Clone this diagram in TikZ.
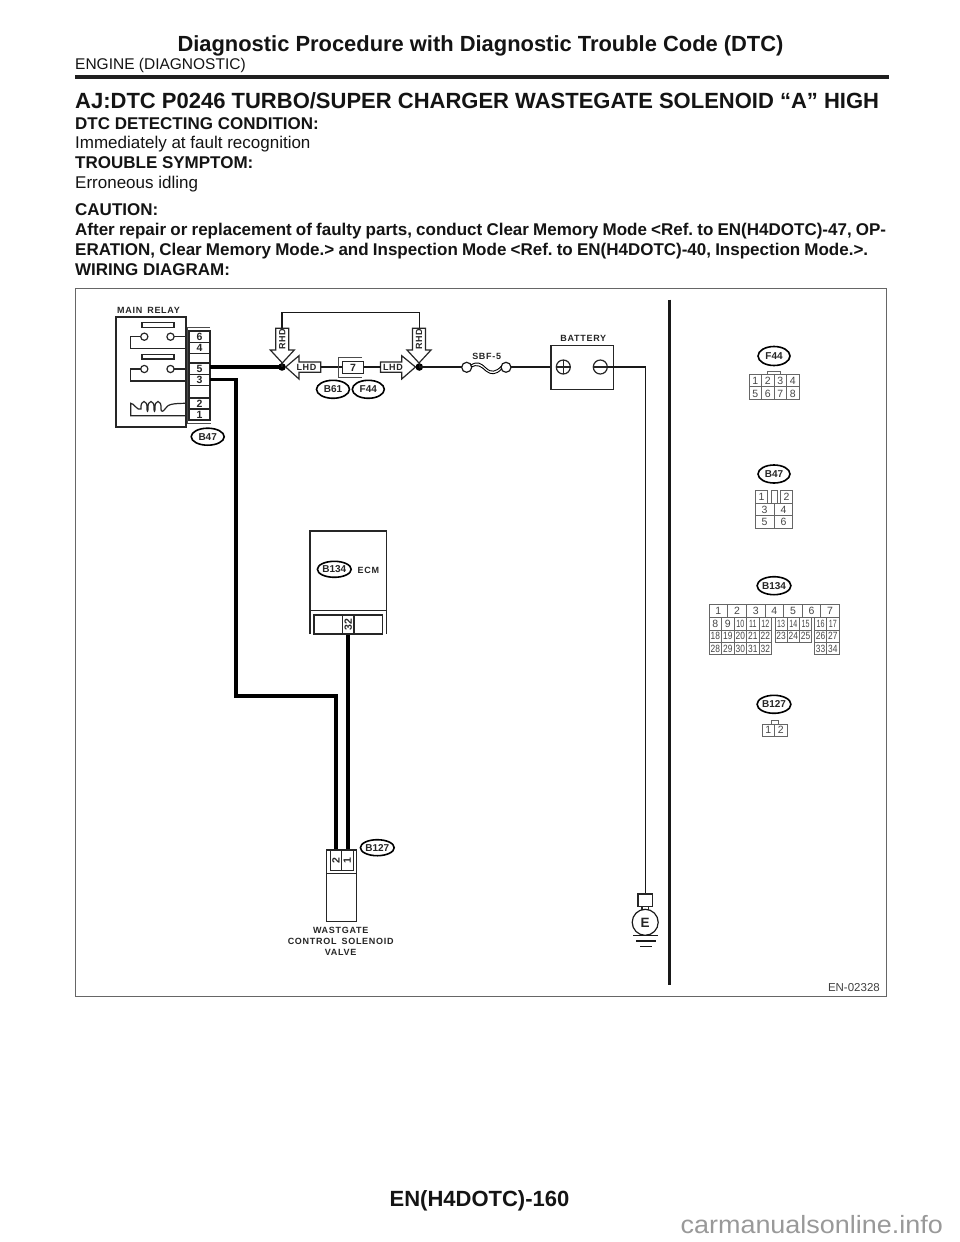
\documentclass[tikz,border=0pt]{standalone}
\usepackage{fontspec}
\setmainfont{Liberation Sans}
\newfontfamily\labfont[LetterSpace=8]{Liberation Sans}
\usetikzlibrary{shapes.geometric}
\newcommand{\narrownum}[1]{\scalebox{.8}[1]{#1}}
\newcommand{\tightnum}[1]{\scalebox{.68}[1]{#1}}
\tikzset{
 x=1pt,y=-1pt,
 tb/.style={font=\fontsize{17}{19}\selectfont\bfseries\frenchspacing,anchor=base west,inner sep=0,text=black!92},
 tn/.style={font=\fontsize{17}{19}\selectfont,anchor=base west,inner sep=0,text=black!92},
 lab/.style={font=\labfont\fontsize{9}{11}\selectfont\bfseries,inner sep=0,text=black!85},
 pin/.style={font=\fontsize{10.5}{11}\selectfont\bfseries,inner sep=0,text=black!85},
 conn/.style={draw=black,line width=1.6pt,ellipse,minimum width=32pt,minimum height=18pt,inner sep=0,font=\fontsize{10}{11}\selectfont\bfseries,text=black!85},
 wire/.style={line width=1.2pt,draw=black!90},
 fat/.style={line width=3.8pt,draw=black},
 box/.style={line width=1.2pt,draw=black!85},
 cell/.style={draw=black!60,line width=.8pt},
 num/.style={font=\fontsize{10.5}{11}\selectfont,inner sep=0,text=black!72},
}
\begin{document}
\begin{tikzpicture}
\useasboundingbox (0,0) rectangle (960,1242);
\fill[white] (0,0) rectangle (960,1242);
% header
\node[font=\fontsize{21.9}{24}\selectfont\bfseries,inner sep=0,anchor=base,text=black!92] (title) at (480.5,51) {Diagnostic Procedure with Diagnostic Trouble Code (DTC)};
\node[tn,font=\fontsize{15.5}{18}\selectfont] (sub) at (75,69.3) {ENGINE (DIAGNOSTIC)};
\draw[line width=3.5pt,black!88] (75,77) -- (889,77);
\node[tb,font=\fontsize{22}{24}\selectfont\bfseries] (h) at (75,108) {AJ:DTC P0246 TURBO/SUPER CHARGER WASTEGATE SOLENOID “A” HIGH};
\node[tb] (t1) at (75,129) {DTC DETECTING CONDITION:};
\node[tn] (t2) at (75,148.5) {Immediately at fault recognition};
\node[tb] (t3) at (75,168.5) {TROUBLE SYMPTOM:};
\node[tn] (t4) at (75,188.5) {Erroneous idling};
\node[tb] (t5) at (75,215.5) {CAUTION:};
\node[tb] (t6) at (75,235.5) {\spaceskip=4pt plus 3pt minus 3pt\makebox[811pt][s]{After repair or replacement of faulty parts, conduct Clear Memory Mode <Ref. to EN(H4DOTC)-47, OP-}};
\node[tb] (t7) at (75,255.5) {\spaceskip=4pt plus 3pt minus 3pt\makebox[793pt][s]{ERATION, Clear Memory Mode.> and Inspection Mode <Ref. to EN(H4DOTC)-40, Inspection Mode.>.}};
\node[tb] (t8) at (75,275.5) {WIRING DIAGRAM:};
% frame
\draw[draw=black!60,line width=1pt] (75,288.5) rectangle (886,996.5);
\node[font=\fontsize{11.5}{13}\selectfont,inner sep=0,anchor=base east,text=black!75] (en) at (880,991.7) {EN-02328};
\draw[line width=2.5pt,black!90] (669.3,299.5) -- (669.3,985);
% main relay
\node[lab] (mr) at (148.5,310) {MAIN\hspace{5pt}RELAY};
\draw[box] (116,317) rectangle (186,427);
\draw[box] (142,322.5) rectangle (174,327.3);
\draw[box] (142,354.3) rectangle (174,359);
\draw[box] (144.3,336.7) circle (3.6);
\draw[box] (170.5,336.7) circle (3.6);
\draw[box] (144.3,369) circle (3.6);
\draw[box] (170.5,369) circle (3.6);
\draw[box] (140.7,336.7) -- (130.7,336.7) -- (130.7,348.3) -- (189,348.3);
\draw[box] (174.1,336.7) -- (189,336.7);
\draw[box] (140.7,369) -- (130.7,369) -- (130.7,381) -- (186,381);
\draw[box] (174.1,369) -- (189,369);
\draw[box] (189,415.7) -- (130.7,415.7) -- (130.7,403.3)
 .. controls (134,403) and (137,411) .. (141,409)
 .. controls (140,399) and (148,399) .. (147,409) .. controls (147,412) and (148,412) .. (148,409)
 .. controls (147,399) and (155,399) .. (154,409) .. controls (154,412) and (155,412) .. (155,409)
 .. controls (154,399) and (162,399) .. (161,409) .. controls (161,412) and (163,412) .. (165,409)
 .. controls (168,404) and (172,403.3) .. (189,403.3);
% pin strip
\draw[black!70,line width=.8pt] (210,327.7) -- (187,327.7) -- (187,423.3) -- (211,423.3);
\draw[box] (189,331) rectangle (210,420);
\foreach \yy in {342.5,353.5,363,374.5,385.5,398,409} \draw[box] (189,\yy) -- (210,\yy);
\node[pin] (p6) at (199.5,337) {6};
\node[pin] (p4) at (199.5,348) {4};
\node[pin] (p5) at (199.5,368.7) {5};
\node[pin] (p3) at (199.5,380) {3};
\node[pin] (p2) at (199.5,403.7) {2};
\node[pin] (p1) at (199.5,414.7) {1};
\node[conn,minimum width=33pt,minimum height=17pt] (b47) at (207.7,436.7) {B47};
% fat wires
\coordinate (jl) at (282,367);
\coordinate (jr) at (419.3,367);
\fill[black] (jl) circle (3.8);
\fill[black] (jr) circle (3.8);
\draw[fat] (210,367) -- (jl);
\draw[fat] (210,379.5) -- (236,379.5) -- (236,696) -- (335.8,696) -- (335.8,850);
\draw[fat] (347.7,634) -- (347.7,850);
% RHD arrows
\draw[wire] (jl) -- (282,312.5) -- (419.3,312.5) -- (jr);
\foreach \xa/\na in {282.3/ra,419/rb}{
 \draw[box,fill=white] (\xa-6.5,328.3) -- (\xa+6.5,328.3) -- (\xa+6.5,350) -- (\xa+12,350) -- (\xa,363) -- (\xa-12,350) -- (\xa-6.5,350) -- cycle;
 \node[lab,rotate=90] (\na) at (\xa,339.5) {RHD};
}
% LHD arrows
\draw[box,fill=white] (285.7,367) -- (299,355.7) -- (299,362) -- (320.7,362) -- (320.7,372.3) -- (299,372.3) -- (299,379) -- cycle;
\node[lab] (ll) at (306.5,367.3) {LHD};
\draw[box,fill=white] (415.5,367) -- (401.7,355.7) -- (401.7,362) -- (380.5,362) -- (380.5,372.3) -- (401.7,372.3) -- (401.7,379) -- cycle;
\node[lab] (lr) at (393,367.3) {LHD};
\draw[wire] (320.7,367) -- (342.3,367) (363.3,367) -- (380.5,367);
\draw[black!70,line width=.8pt] (362,357.3) -- (338.7,357.3) -- (338.7,377.3) -- (362,377.3);
\draw[box,fill=white] (342.3,361.7) rectangle (363.3,373.3);
\node[pin] (p7) at (353,367.5) {7};
\node[conn,minimum width=33pt,minimum height=18pt] (b61) at (333,389.3) {B61};
\node[conn,minimum width=32pt,minimum height=18pt] (f44a) at (368.3,389.3) {F44};
% fuse & battery
\draw[wire] (jr) -- (461.7,367);
\draw[wire] (466.7,367.3) circle (5);
\draw[wire] (506,367.3) circle (5);
\draw[line width=.9pt] (471,365) .. controls (477,361) and (481,363) .. (486,368) .. controls (491,373) and (496,372) .. (501.5,366);
\draw[line width=.9pt] (471,367) .. controls (477,364) and (481,366) .. (486,371) .. controls (491,375) and (496,375) .. (501.5,369);
\node[lab] (sbf) at (486.7,356) {SBF-5};
\draw[wire] (511,367) -- (551,367);
\draw[box] (551,345.7) rectangle (613.7,389.7);
\node[lab] (bat) at (583.3,338.3) {BATTERY};
\draw[box] (563.3,367) circle (7);
\draw[box] (556.3,367) -- (570.3,367) (563.3,360) -- (563.3,374);
\draw[box] (600.3,367) circle (7);
\draw[box] (593.3,367) -- (607.3,367);
\draw[wire] (607.3,367) -- (645.5,367) -- (645.5,894);
% ground
\draw[box] (638,894) rectangle (652.7,906.7);
\draw[box] (642,906.7) -- (642,909.5) (648.7,906.7) -- (648.7,909.5);
\draw[wire] (645.2,922.3) circle (13);
\node[font=\fontsize{13.5}{14}\selectfont\bfseries,inner sep=0,text=black!85] (e) at (645.2,922.5) {E};
\draw[wire] (633,935.7) -- (658,935.7);
\draw[wire] (636,941) -- (655.5,941);
\draw[wire] (640,946.7) -- (651.7,946.7);
% ECM
\draw[box] (310,634) -- (310,531) -- (386.7,531) -- (386.7,634);
\draw[box] (310,610.7) -- (386.7,610.7);
\draw[box] (314,615) rectangle (382.7,634);
\draw[box] (342.3,615) -- (342.3,634) (354,615) -- (354,634);
\node[pin,rotate=90] (p32) at (348.2,624.5) {32};
\node[conn,minimum width=31pt,minimum height=16pt] (b134a) at (334.3,569.3) {B134};
\node[lab] (ecm) at (368.3,570.7) {ECM};
% solenoid
\draw[box] (326.7,850) rectangle (356.7,921.7);
\draw[box] (326.7,873.3) -- (356.7,873.3);
\draw[box] (330.3,850) rectangle (353.3,870.7);
\draw[box] (341.7,850) -- (341.7,870.7);
\node[pin,rotate=90] (s2) at (336,860.7) {2};
\node[pin,rotate=90] (s1) at (347.2,860.7) {1};
\node[conn,minimum width=32pt,minimum height=16pt] (b127a) at (377.3,847.7) {B127};
\node[lab,align=center,font=\labfont\fontsize{9}{11}\selectfont\bfseries] (wg) at (340.7,941.7) {WASTGATE\\CONTROL\hspace{5pt}SOLENOID\\VALVE};
% connector F44
\node[conn,minimum height=19pt] (f44) at (774,356) {F44};
\foreach \i in {1,2,3} \draw[cell] (749+12.5*\i,374) -- (749+12.5*\i,399.3);
\draw[cell] (749,374) rectangle (799,399.3); \draw[cell] (749,386.7) -- (799,386.7);
\draw[cell] (767.7,374) -- (767.7,371) -- (780.7,371) -- (780.7,374);
\foreach \n [count=\c from 0] in {1,2,3,4} \node[num] (fa\n) at (755.2+12.5*\c,381) {\n};
\foreach \n [count=\c from 0] in {5,6,7,8} \node[num] (fb\n) at (755.2+12.5*\c,393.5) {\n};
% connector B47
\node[conn] (b47b) at (774,474) {B47};
\draw[cell] (755,490) rectangle (767.7,503.3);
\draw[cell] (771,490) rectangle (777.3,503.3);
\draw[cell] (780.3,490) rectangle (792.7,503.3);
\draw[cell] (755,503.3) rectangle (792.7,528.3);
\draw[cell] (755,515.7) -- (792.7,515.7) (774.3,503.3) -- (774.3,528.3);
\node[num] (g1) at (761.5,497) {1};
\node[num] (g2) at (786.5,497) {2};
\node[num] (g3) at (764.5,509.7) {3};
\node[num] (g4) at (783.5,509.7) {4};
\node[num] (g5) at (764.5,522) {5};
\node[num] (g6) at (783.5,522) {6};
% connector B134
\node[conn] (b134b) at (774,585.7) {B134};
\draw[cell] (709,604.7) rectangle (839.3,617.3);
\foreach \xx in {727.7,746.7,765,783.7,802.3,820.7} \draw[cell] (\xx,604.7) -- (\xx,617.3);
\foreach \n/\xx in {1/718.3,2/737,3/755.8,4/774.3,5/793,6/811.5,7/830} \node[num] (h\n) at (\xx,611.3) {\n};
\draw[cell] (709,617.3) rectangle (771.7,654.3);
\draw[cell] (709,630) -- (771.7,630) (709,642.3) -- (771.7,642.3);
\foreach \i in {1,2,3,4} \draw[cell] (709+12.5*\i,617.3) -- (709+12.5*\i,654.3);
\draw[cell] (775,617.3) rectangle (811.7,642.3);
\draw[cell] (775,630) -- (811.7,630);
\foreach \i in {1,2} \draw[cell] (775+12.2*\i,617.3) -- (775+12.2*\i,642.3);
\draw[cell] (814.3,617.3) rectangle (839.3,654.3);
\draw[cell] (814.3,630) -- (839.3,630) (814.3,642.3) -- (839.3,642.3) (826.7,617.3) -- (826.7,654.3);
\foreach \n [count=\c from 0] in {8,9} \node[num] (j\n) at (715.3+12.5*\c,624) {\n};
\foreach \n [count=\c from 2] in {10,11,12} \node[num] (j\n) at (715.3+12.5*\c,624) {\tightnum{\n}};
\foreach \n [count=\c from 0] in {13,14,15} \node[num] (j\n) at (781.1+12.2*\c,624) {\tightnum{\n}};
\foreach \n [count=\c from 0] in {16,17} \node[num] (j\n) at (820.5+12.4*\c,624) {\tightnum{\n}};
\foreach \n [count=\c from 0] in {18,19,20,21,22} \node[num] (j\n) at (715.3+12.5*\c,636.3) {\narrownum{\n}};
\foreach \n [count=\c from 0] in {23,24,25} \node[num] (j\n) at (781.1+12.2*\c,636.3) {\narrownum{\n}};
\foreach \n [count=\c from 0] in {26,27} \node[num] (j\n) at (820.5+12.4*\c,636.3) {\narrownum{\n}};
\foreach \n [count=\c from 0] in {28,29,30,31,32} \node[num] (j\n) at (715.3+12.5*\c,648.5) {\narrownum{\n}};
\foreach \n [count=\c from 0] in {33,34} \node[num] (j\n) at (820.5+12.4*\c,648.5) {\narrownum{\n}};
% connector B127
\node[conn] (b127b) at (774,704.3) {B127};
\draw[cell] (762,724) rectangle (787,736);
\draw[cell] (774.3,724) -- (774.3,736);
\draw[cell] (771.7,724) -- (771.7,720.3) -- (778,720.3) -- (778,724);
\node[num] (k1) at (768.2,730.3) {1};
\node[num] (k2) at (780.8,730.3) {2};
% footer
\node[font=\fontsize{22}{24}\selectfont\bfseries,inner sep=0,anchor=base,text=black!92] (foot) at (479.5,1206) {EN(H4DOTC)-160};
\node[font=\fontsize{25}{28}\selectfont,inner sep=0,anchor=base east,text=black!40] (wm) at (943,1233) {\scalebox{1.078}[1]{carmanualsonline.info}};
\end{tikzpicture}
\end{document}
